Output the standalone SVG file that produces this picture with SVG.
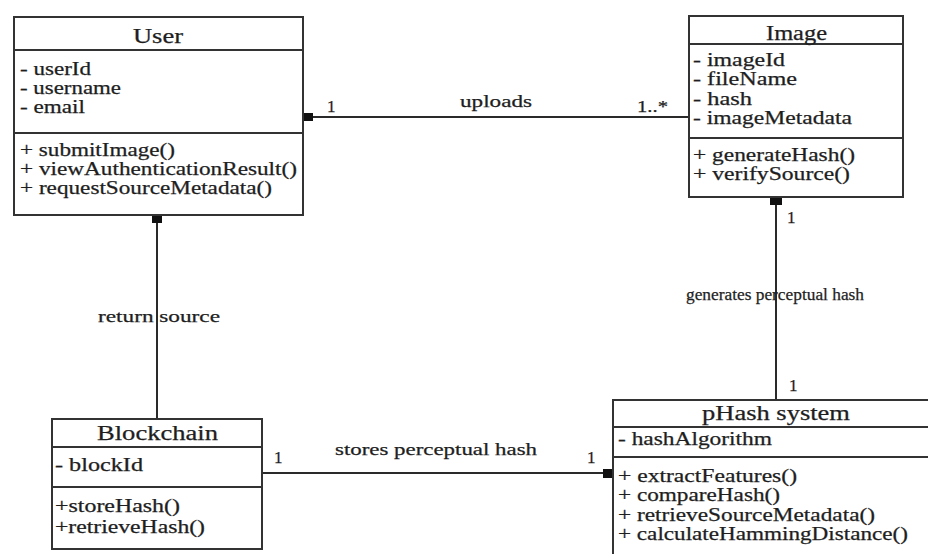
<svg xmlns="http://www.w3.org/2000/svg" width="928" height="554" viewBox="0 0 928 554">
<style>
.box{fill:#fff;stroke:#333;stroke-width:2}
.sep{stroke:#333;stroke-width:2}
.t{font-family:"Liberation Serif","Times New Roman",serif;fill:#1e1e1e;stroke:#1e1e1e;stroke-width:0.25}
.title{font-size:20px}
.mem{font-size:18px}
.lbl{font-size:17px}
.ln{stroke:#2a2a2a;stroke-width:2;fill:none}
.sq{fill:#111}
</style>
<rect width="928" height="554" fill="#fff"/>
<g id="connectors">
<line class="ln" x1="303" y1="117" x2="689" y2="117"/>
<rect class="sq" x="302" y="113" width="11" height="8"/>
<line class="ln" x1="157" y1="215" x2="157" y2="419"/>
<rect class="sq" x="152" y="215" width="10" height="8"/>
<line class="ln" x1="776" y1="197" x2="776" y2="400"/>
<rect class="sq" x="770" y="197" width="12" height="8"/>
<line class="ln" x1="262" y1="473" x2="613" y2="473"/>
<rect class="sq" x="603" y="469" width="11" height="9"/>
<text class="t lbl" x="460" y="107" textLength="72" lengthAdjust="spacingAndGlyphs">uploads</text>
<text class="t lbl" x="327" y="112">1</text>
<text class="t lbl" x="637" y="112" textLength="31" lengthAdjust="spacingAndGlyphs">1..*</text>
<text class="t lbl" x="787" y="223">1</text>
<text class="t lbl" x="789" y="391">1</text>
<text class="t lbl" x="686" y="300" textLength="178" lengthAdjust="spacingAndGlyphs">generates perceptual hash</text>
<text class="t lbl" x="98" y="322" textLength="122" lengthAdjust="spacingAndGlyphs">return source</text>
<text class="t lbl" x="335" y="455" textLength="202" lengthAdjust="spacingAndGlyphs">stores perceptual hash</text>
<text class="t lbl" x="274" y="463">1</text>
<text class="t lbl" x="587" y="463">1</text>
</g>
<g id="user">
<rect class="box" x="14" y="17" width="289" height="198"/>
<line class="sep" x1="14" y1="50" x2="303" y2="50"/>
<line class="sep" x1="14" y1="133" x2="303" y2="133"/>
<text class="t title" x="133" y="43" textLength="50" lengthAdjust="spacingAndGlyphs">User</text>
<text class="t mem" x="20" y="75" textLength="71" lengthAdjust="spacingAndGlyphs">- userId</text>
<text class="t mem" x="20" y="94" textLength="101" lengthAdjust="spacingAndGlyphs">- username</text>
<text class="t mem" x="20" y="113" textLength="65" lengthAdjust="spacingAndGlyphs">- email</text>
<text class="t mem" x="20" y="156" textLength="155" lengthAdjust="spacingAndGlyphs">+ submitImage()</text>
<text class="t mem" x="20" y="175" textLength="277" lengthAdjust="spacingAndGlyphs">+ viewAuthenticationResult()</text>
<text class="t mem" x="20" y="194" textLength="252" lengthAdjust="spacingAndGlyphs">+ requestSourceMetadata()</text>
</g>
<g id="image">
<rect class="box" x="689" y="16" width="214" height="181"/>
<line class="sep" x1="689" y1="44" x2="903" y2="44"/>
<line class="sep" x1="689" y1="138" x2="903" y2="138"/>
<text class="t title" x="766" y="40" textLength="61" lengthAdjust="spacingAndGlyphs">Image</text>
<text class="t mem" x="693" y="66" textLength="92" lengthAdjust="spacingAndGlyphs">- imageId</text>
<text class="t mem" x="693" y="85" textLength="104" lengthAdjust="spacingAndGlyphs">- fileName</text>
<text class="t mem" x="693" y="105" textLength="59" lengthAdjust="spacingAndGlyphs">- hash</text>
<text class="t mem" x="693" y="124" textLength="159" lengthAdjust="spacingAndGlyphs">- imageMetadata</text>
<text class="t mem" x="693" y="161" textLength="162" lengthAdjust="spacingAndGlyphs">+ generateHash()</text>
<text class="t mem" x="693" y="180" textLength="157" lengthAdjust="spacingAndGlyphs">+ verifySource()</text>
</g>
<g id="blockchain">
<rect class="box" x="52" y="419" width="210" height="130"/>
<line class="sep" x1="52" y1="447" x2="262" y2="447"/>
<line class="sep" x1="52" y1="487" x2="262" y2="487"/>
<text class="t title" x="97" y="440" textLength="121" lengthAdjust="spacingAndGlyphs">Blockchain</text>
<text class="t mem" x="55" y="471" textLength="88" lengthAdjust="spacingAndGlyphs">- blockId</text>
<text class="t mem" x="55" y="512" textLength="125" lengthAdjust="spacingAndGlyphs">+storeHash()</text>
<text class="t mem" x="55" y="533" textLength="150" lengthAdjust="spacingAndGlyphs">+retrieveHash()</text>
</g>
<g id="phash">
<rect class="box" x="613" y="400" width="330" height="170"/>
<line class="sep" x1="613" y1="427" x2="943" y2="427"/>
<line class="sep" x1="613" y1="457" x2="943" y2="457"/>
<text class="t title" x="702" y="420" textLength="148" lengthAdjust="spacingAndGlyphs">pHash system</text>
<text class="t mem" x="618" y="445" textLength="154" lengthAdjust="spacingAndGlyphs">- hashAlgorithm</text>
<text class="t mem" x="618" y="482" textLength="179" lengthAdjust="spacingAndGlyphs">+ extractFeatures()</text>
<text class="t mem" x="618" y="501" textLength="162" lengthAdjust="spacingAndGlyphs">+ compareHash()</text>
<text class="t mem" x="618" y="521" textLength="257" lengthAdjust="spacingAndGlyphs">+ retrieveSourceMetadata()</text>
<text class="t mem" x="618" y="540" textLength="290" lengthAdjust="spacingAndGlyphs">+ calculateHammingDistance()</text>
</g>
</svg>
